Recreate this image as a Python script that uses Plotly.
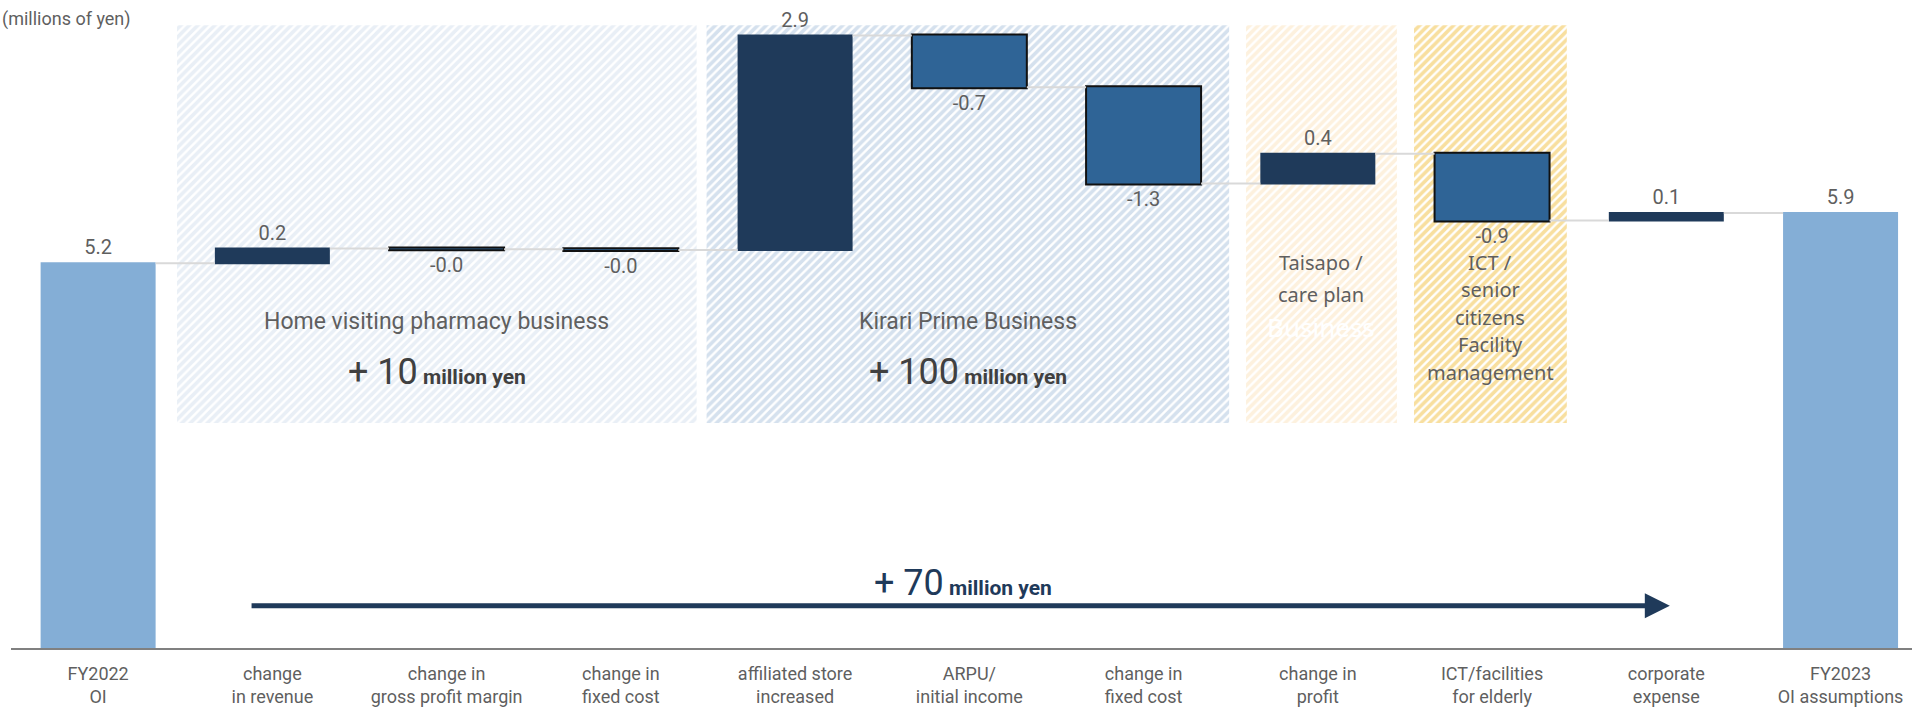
import plotly.graph_objects as go

# ---------------- data ----------------
categories = [
    "FY2022<br>OI",
    "change<br>in revenue",
    "change in<br>gross profit margin",
    "change in<br>fixed cost",
    "affiliated store<br>increased",
    "ARPU/<br>initial income",
    "change in<br>fixed cost",
    "change in<br>profit",
    "ICT/facilities<br>for elderly",
    "corporate<br>expense",
    "FY2023<br>OI assumptions",
]
values = [5.2, 0.2, -0.01, -0.01, 2.9, -0.7, -1.3, 0.4, -0.9, 0.1, 5.9]
measures = ["absolute"] + ["relative"] * 9 + ["total"]
value_labels = [f"{v:.1f}" for v in values]

segment_names = ["Home visiting pharmacy business", "Kirari Prime Business"]
segment_amounts = ["10", "100"]
total_change = "70"
unit_label = "(millions of yen)"

# ---------------- styling ----------------
FONT = "Roboto, Arial, sans-serif"
WIDE = "Noto Sans, Open Sans, sans-serif"
GRAY = "#5f5f5f"
XR = [-0.5, 10.41]
YR = [0, 8.76]

# background hatched regions (category units)
reg_x0 = [0.453, 3.492, 6.588, 7.552]
reg_x1 = [3.435, 6.491, 7.454, 8.429]
reg_y0, reg_y1 = 3.04, 8.42
reg_fg = ["#86a6c7", "#6b93bf", "#efc88c", "#ecaa1e"]
reg_bg = ["#e9eff6", "#d5e1ee", "#fdf1de", "#f8df9f"]

x_pos = list(range(len(categories)))

fig = go.Figure()

fig.add_trace(go.Bar(
    x=[(a + b) / 2 for a, b in zip(reg_x0, reg_x1)],
    y=[reg_y1 - reg_y0] * len(reg_x0),
    base=[reg_y0] * len(reg_x0),
    width=[b - a for a, b in zip(reg_x0, reg_x1)],
    marker=dict(
        color=reg_bg,
        line=dict(width=0),
        pattern=dict(shape="/", fgcolor=reg_fg, bgcolor=reg_bg,
                     size=6, solidity=0.6, fillmode="replace"),
    ),
    hoverinfo="skip",
    showlegend=False,
))

fig.add_trace(go.Waterfall(
    x=x_pos,
    y=values,
    measure=measures,
    text=value_labels,
    textposition="outside",
    textfont=dict(family=FONT, size=20, color=GRAY),
    cliponaxis=False,
    connector=dict(mode="between", line=dict(color="#d9d9d9", width=2)),
    increasing=dict(marker=dict(color="#1f3a5a", line=dict(width=0))),
    decreasing=dict(marker=dict(color="#2f6496", line=dict(color="#111111", width=2))),
    totals=dict(marker=dict(color="#84aed6", line=dict(width=0))),
    xaxis="x2",
    yaxis="y2",
    showlegend=False,
))

annotations = []
# unit label
annotations.append(dict(
    text=unit_label, xref="paper", yref="paper", x=-11 / 1901, y=1,
    xanchor="left", yanchor="top", yshift=-6, showarrow=False,
    font=dict(family=FONT, size=18, color=GRAY),
))

# segment titles + amounts
seg_centers = [(reg_x0[i] + reg_x1[i]) / 2 for i in range(2)]
for name, amt, cx in zip(segment_names, segment_amounts, seg_centers):
    annotations.append(dict(
        text=name, x=cx, y=4.41, xref="x", yref="y", showarrow=False,
        font=dict(family=FONT, size=23, color=GRAY),
    ))
    annotations.append(dict(
        text=f"<span style='font-size:36px'>+ {amt}</span> <b>million yen</b>",
        x=cx, y=3.73, xref="x", yref="y", showarrow=False,
        font=dict(family=FONT, size=21, color="#404040"),
    ))

# Taisapo lines
cx3 = (reg_x0[2] + reg_x1[2]) / 2
for i, (line, col, sz) in enumerate([("Taisapo /", GRAY, 20), ("care plan", GRAY, 20), ("Business", "#ffffff", 26)]):
    annotations.append(dict(
        text=line, x=cx3, y=(648 - 262 - 32.5 * i) / 74, xref="x", yref="y",
        showarrow=False, font=dict(family=WIDE, size=sz, color=col),
    ))
# ICT lines
cx4 = (reg_x0[3] + reg_x1[3]) / 2
for i, line in enumerate(["ICT /", "senior", "citizens", "Facility", "management"]):
    annotations.append(dict(
        text=line, x=cx4, y=(648 - 262 - 27.5 * i) / 74, xref="x", yref="y",
        showarrow=False, font=dict(family=WIDE, size=20, color=GRAY),
    ))

# total change arrow
annotations.append(dict(
    x=9.02, y=0.57, ax=0.872, ay=0.57, xref="x", yref="y", axref="x", ayref="y",
    text="", showarrow=True, arrowhead=2, arrowsize=1, arrowwidth=5,
    arrowcolor="#1f3a5a",
))
annotations.append(dict(
    text=f"<span style='font-size:36px'>+ {total_change}</span> <b>million yen</b>",
    x=4.965, y=0.88, xref="x", yref="y", showarrow=False,
    font=dict(family=FONT, size=21, color="#1f3a5a"),
))

fig.update_layout(
    width=1912, height=713,
    margin=dict(l=11, r=0, t=0, b=65),
    paper_bgcolor="white", plot_bgcolor="white",
    barmode="overlay",
    waterfallgap=0.34,
    xaxis=dict(
        range=XR, tickmode="array", tickvals=x_pos, ticktext=categories,
        showline=True, linecolor="#808080", linewidth=2, ticks="",
        showgrid=False, zeroline=False, ticklabelstandoff=8,
        tickfont=dict(family=FONT, size=18, color=GRAY),
    ),
    yaxis=dict(range=YR, visible=False, showgrid=False, zeroline=False),
    xaxis2=dict(range=XR, overlaying="x", visible=False, anchor="y2"),
    yaxis2=dict(range=YR, overlaying="y", visible=False, anchor="x2"),
    annotations=annotations,
    font=dict(family=FONT),
)

fig.write_html("out.html")
